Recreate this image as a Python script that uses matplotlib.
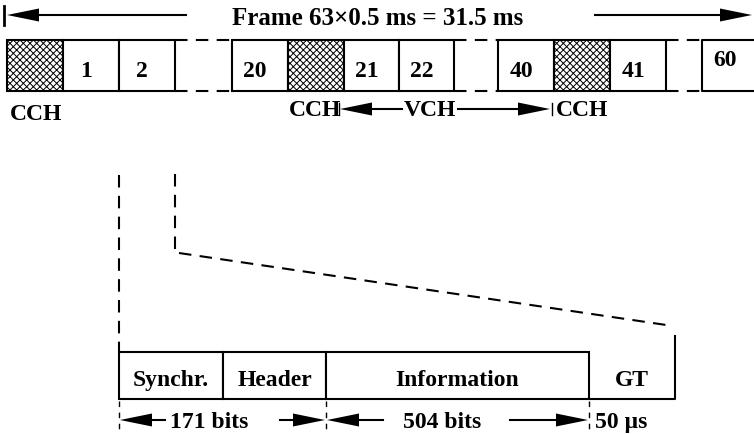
import matplotlib
matplotlib.use("Agg")
import matplotlib.pyplot as plt
from matplotlib.patches import Rectangle, Polygon

plt.rcParams["font.family"] = ["Liberation Serif", "DejaVu Serif"]
plt.rcParams["font.weight"] = "bold"
plt.rcParams["hatch.linewidth"] = 0.7
plt.rcParams["lines.scale_dashes"] = False

# --- данные схемы -----------------------------------------------------------
frame_title = "Frame 63\u00d70.5 ms = 31.5 ms"

# слоты кадра: "CCH" = управляющий канал (штриховка), None = пропуск
slot_labels = ["CCH", "1", "2", None, "20", "CCH", "21", "22", None,
               "40", "CCH", "41", None, "60"]
slot_widths = [56, 56, 56, 57, 56, 56, 55, 55, 44, 56, 56, 56, 36, 53]

# поля слота
field_labels = ["Synchr.", "Header", "Information", "GT"]
field_widths = [104, 103, 263, 86]

dim_labels = ["171 bits", "504 bits", "50 \u00b5s"]

LW = 1.5
DASH = (0, (9, 6))
FS = 17

fig = plt.figure(figsize=(7.54, 4.35), dpi=100)
ax = fig.add_axes([0, 0, 1, 1])
ax.set_xlim(0, 754)
ax.set_ylim(435, 0)
ax.axis("off")


def arrow_head(tip, y, direction, length=32, half=6.5):
    base = tip - direction * length
    ax.add_patch(Polygon([(tip, y), (base, y - half), (base, y + half)],
                         closed=True, color="black", lw=0))


def arrow(x_from, x_tip, y, length=32, half=6.5):
    d = 1 if x_tip > x_from else -1
    ax.plot([x_from, x_tip - d * length], [y, y], color="black", lw=LW)
    arrow_head(x_tip, y, d, length, half)


# --- верхняя стрелка кадра --------------------------------------------------
ax.plot([4, 4], [7, 26], color="black", lw=2)
arrow(186, 7, 16)
arrow(595, 752, 16)
ax.text(378, 25, frame_title, ha="center", va="baseline", fontsize=18)

# --- слоты кадра ------------------------------------------------------------
top, bot = 41, 92
x = 7
slot_left = []
for lab, w in zip(slot_labels, slot_widths):
    slot_left.append(x)
    if lab is None:
        ax.plot([x, x + w], [top, top], color="black", lw=LW, ls=DASH)
        ax.plot([x, x + w], [bot, bot], color="black", lw=LW, ls=DASH)
    elif lab == "CCH":
        ax.add_patch(Rectangle((x, top), w, bot - top, facecolor="white",
                               edgecolor="black", hatch="xxxxx", lw=LW))
    elif lab == slot_labels[-1]:
        ax.plot([x + w, x, x, x + w], [top, top, bot, bot], color="black", lw=LW)
        ax.text(x + w / 2 - 3, 66, lab, ha="center", va="baseline", fontsize=FS)
    else:
        ax.add_patch(Rectangle((x, top), w, bot - top, facecolor="white",
                               edgecolor="black", lw=LW))
        ax.text(x + w / 2 - 5, 77, lab, ha="center", va="baseline", fontsize=FS)
    x += w

# подписи под слотами
ax.text(36, 120, "CCH", ha="center", va="baseline", fontsize=FS)
ax.text(315, 116, "CCH", ha="center", va="baseline", fontsize=FS)
ax.text(582, 116, "CCH", ha="center", va="baseline", fontsize=FS)
ax.text(430, 116, "VCH", ha="center", va="baseline", fontsize=FS)
ax.plot([339, 339], [104, 116], color="black", lw=1)
ax.plot([552, 552], [104, 116], color="black", lw=1)
arrow(402, 340, 110)
arrow(458, 550, 110)

# --- линии раскрытия слота --------------------------------------------------
f_top, f_bot = 353, 400
f_left = slot_left[2]
ax.plot([f_left, f_left], [176, f_top], color="black", lw=LW, ls=DASH)
x2 = slot_left[3]
ax.plot([x2, x2, x2 + 4], [175, 254, 254], color="black", lw=LW, ls=DASH)
ax.plot([x2 + 4, 673], [254, 327], color="black", lw=LW, ls=DASH)

# --- поля слота -------------------------------------------------------------
x = f_left
edges = [x]
for lab, w in zip(field_labels, field_widths):
    if lab == "GT":
        ax.plot([x, x + w, x + w], [f_bot, f_bot, 337], color="black", lw=LW)
    else:
        ax.add_patch(Rectangle((x, f_top), w, f_bot - f_top, facecolor="white",
                               edgecolor="black", lw=LW))
    ax.text(x + w / 2, 386, lab, ha="center", va="baseline", fontsize=FS)
    x += w
    edges.append(x)

# --- размерные стрелки ------------------------------------------------------
dim_y = 421
for ex in [edges[0], edges[2], edges[3]]:
    ax.plot([ex, ex], [402, 435], color="black", lw=1, ls=(0, (4, 4)))

arrow(165, edges[0] + 1, dim_y)
arrow(280, edges[2] - 1, dim_y)
ax.text(209, 428, dim_labels[0], ha="center", va="baseline", fontsize=FS)

arrow(383, edges[2] + 1, dim_y)
arrow(510, edges[3] - 1, dim_y)
ax.text(442, 428, dim_labels[1], ha="center", va="baseline", fontsize=FS)

ax.text(595, 428, dim_labels[2], ha="left", va="baseline", fontsize=FS)

fig.savefig("out.png", dpi=100)
plt.close(fig)
